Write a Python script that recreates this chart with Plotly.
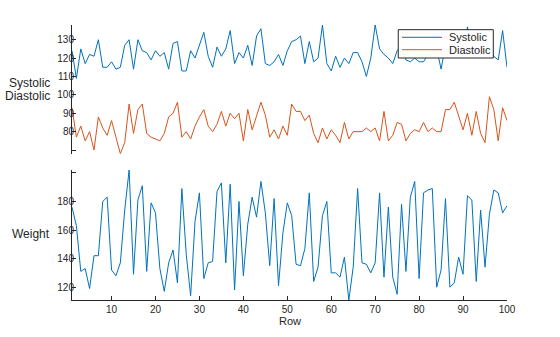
import plotly.graph_objects as go

rows = list(range(1, 101))

systolic = [124, 109, 125, 117, 122, 121, 130, 115, 115, 118,
            114, 115, 127, 130, 114, 130, 124, 123, 119, 124,
            121, 123, 114, 128, 129, 113, 113, 124, 120, 127,
            134, 121, 115, 126, 121, 125, 135, 117, 123, 120,
            127, 116, 132, 136, 117, 116, 118, 122, 116, 124,
            129, 130, 132, 117, 129, 118, 120, 138, 117, 113,
            121, 115, 120, 117, 123, 123, 118, 110, 120, 138,
            125, 122, 120, 117, 124, 127, 119, 118, 120, 118,
            118, 122, 126, 125, 114, 127, 124, 131, 126, 122,
            137, 125, 128, 122, 130, 126, 121, 119, 135, 115]

diastolic = [93, 77, 83, 75, 80, 70, 88, 82, 78, 86,
             77, 68, 74, 95, 79, 92, 95, 79, 77, 76,
             75, 79, 88, 90, 96, 77, 80, 76, 83, 88,
             92, 83, 80, 84, 91, 83, 90, 87, 90, 75,
             92, 81, 88, 96, 89, 77, 81, 76, 83, 78,
             95, 91, 91, 86, 89, 79, 74, 82, 76, 81,
             78, 74, 85, 76, 80, 80, 80, 82, 80, 82,
             75, 91, 75, 78, 85, 84, 75, 79, 81, 80,
             85, 80, 82, 80, 80, 92, 92, 96, 88, 81,
             90, 78, 91, 79, 74, 99, 92, 75, 93, 86]

weight = [176, 163, 131, 133, 119, 142, 142, 180, 183, 132,
          128, 137, 174, 202, 129, 181, 191, 131, 179, 172,
          133, 117, 137, 146, 123, 189, 143, 114, 166, 186,
          126, 137, 138, 187, 193, 137, 192, 118, 180, 128,
          164, 183, 169, 194, 172, 135, 182, 121, 158, 179,
          170, 136, 135, 147, 186, 124, 134, 170, 180, 130,
          130, 127, 141, 111, 134, 189, 137, 136, 130, 137,
          186, 127, 176, 127, 115, 178, 131, 183, 194, 126,
          186, 188, 189, 120, 132, 182, 120, 123, 141, 129,
          184, 181, 124, 174, 134, 171, 188, 186, 172, 177]

top_ticks = [70, 80, 90, 100, 110, 120, 130]
top_ticktext = ["", "80", "90", "100", "110", "120", "130"]
bot_ticks = [120, 140, 160, 180, 200]
bot_ticktext = ["120", "140", "160", "180", ""]
x_ticks = [10, 20, 30, 40, 50, 60, 70, 80, 90, 100]
legend_names = ["Systolic", "Diastolic"]

BLUE = "#0072BD"
ORANGE = "#D95319"
AX = "#262626"
FONT = "Liberation Sans, Arial, sans-serif"

fig = go.Figure()
fig.add_trace(go.Scatter(x=rows, y=systolic, mode="lines", name=legend_names[0],
                         line=dict(color=BLUE, width=1), xaxis="x2", yaxis="y"))
fig.add_trace(go.Scatter(x=rows, y=diastolic, mode="lines", name=legend_names[1],
                         line=dict(color=ORANGE, width=1), xaxis="x2", yaxis="y"))
fig.add_trace(go.Scatter(x=rows, y=weight, mode="lines", name="Weight",
                         line=dict(color=BLUE, width=1), xaxis="x", yaxis="y2"))

common_y = dict(showline=True, linecolor=AX, linewidth=1, ticks="inside",
                ticklen=4, tickcolor=AX, tickwidth=1, showgrid=False, zeroline=False,
                tickfont=dict(family=FONT, size=10, color=AX), ticklabelstandoff=-5)

fig.update_layout(
    width=560, height=337,
    margin=dict(l=72, r=53, t=25, b=37),
    paper_bgcolor="white", plot_bgcolor="white",
    showlegend=False,
    xaxis=dict(domain=[0, 1], anchor="y2", range=[1, 100], tickvals=x_ticks,
               showline=True, linecolor=AX, linewidth=1, ticks="inside", ticklen=4,
               tickcolor=AX, showgrid=False, zeroline=False,
               tickfont=dict(family=FONT, size=10, color=AX)),
    xaxis2=dict(domain=[0, 1], anchor="y", range=[1, 100], matches="x",
                visible=False, showgrid=False, zeroline=False),
    yaxis=dict(domain=[0.532, 1], anchor="x2", range=[68, 138],
               tickvals=top_ticks, ticktext=top_ticktext, **common_y),
    yaxis2=dict(domain=[0, 0.4727], anchor="x", range=[111, 202],
                tickvals=bot_ticks, ticktext=bot_ticktext, **common_y),
)

# legend box (drawn as shapes/annotations to match the compact MATLAB legend)
lx0, lx1, ly0, ly1 = 0.750, 0.9685, 0.880, 0.983
fig.add_shape(type="rect", xref="paper", yref="paper", x0=lx0, x1=lx1, y0=ly0, y1=ly1,
              fillcolor="white", line=dict(color=AX, width=1), layer="above")
row_y = [0.9553, 0.9102]
for name, color, yy in zip(legend_names, [BLUE, ORANGE], row_y):
    fig.add_shape(type="line", xref="paper", yref="paper", x0=0.7586, x1=0.8506,
                  y0=yy, y1=yy, line=dict(color=color, width=1), layer="above")
    fig.add_annotation(x=0.862, y=yy, xref="paper", yref="paper", showarrow=False,
                       xanchor="left", yanchor="middle", text=name,
                       font=dict(family=FONT, size=11, color=AX))

ann = dict(xref="paper", yref="paper", showarrow=False, xanchor="right",
           yanchor="middle", font=dict(family=FONT, size=12, color=AX))
fig.add_annotation(x=-0.047, y=0.788, text="Systolic", **ann)
fig.add_annotation(x=-0.047, y=0.742, text="Diastolic", **ann)
fig.add_annotation(x=-0.047, y=0.24, text="Weight", **ann)
fig.add_annotation(x=0.5, y=-0.0764, xref="paper", yref="paper", showarrow=False,
                   xanchor="center", yanchor="middle", text="Row",
                   font=dict(family=FONT, size=11, color=AX))

fig.write_html("out.html")
